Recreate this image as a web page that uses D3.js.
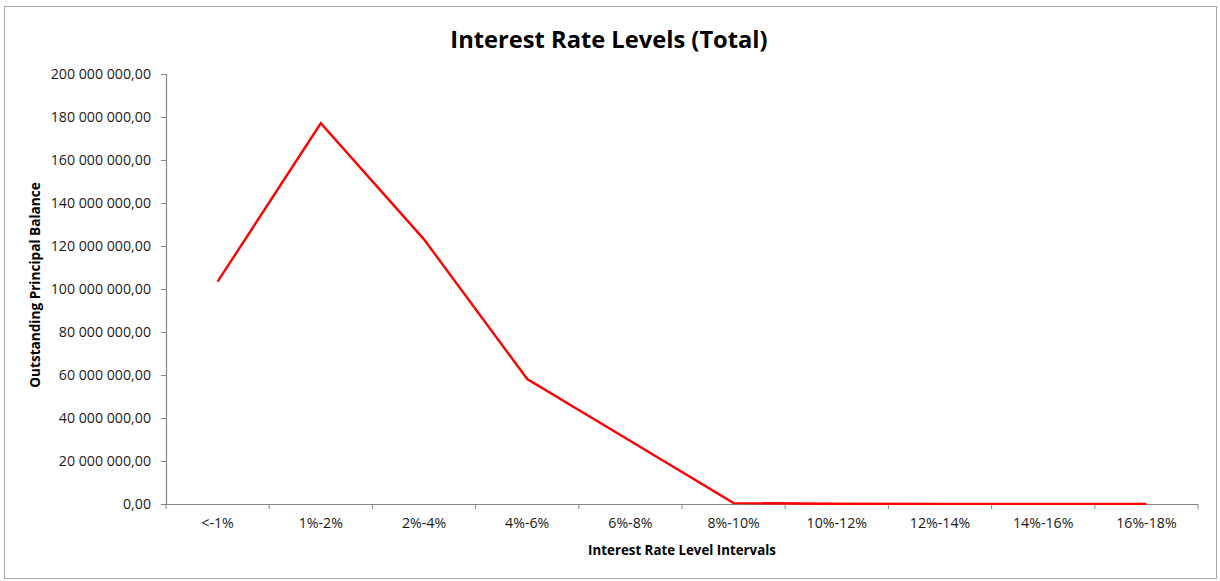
<!DOCTYPE html>
<html><head><meta charset="utf-8">
<script src="https://cdn.jsdelivr.net/npm/d3@7"></script>
<style>
html,body{margin:0;padding:0;background:#fff;}
svg{display:block;font-family:"Open Sans",sans-serif;}
</style></head>
<body>
<script>
const categories = ["<-1%","1%-2%","2%-4%","4%-6%","6%-8%","8%-10%","10%-12%","12%-14%","14%-16%","16%-18%"];
const balances = [103400000,177100000,123100000,58100000,29300000,400000,100000,60000,50000,50000];
const yTicks = [0,20000000,40000000,60000000,80000000,100000000,120000000,140000000,160000000,180000000,200000000];
const titleText = "Interest Rate Levels (Total)";
const xTitle = "Interest Rate Level Intervals";
const yTitle = "Outstanding Principal Balance";

const W = 1220, H = 581;
const svg = d3.select("body").append("svg").attr("width", W).attr("height", H);

svg.append("rect").attr("x",4.5).attr("y",6.5).attr("width",1212).attr("height",572)
  .attr("fill","#fff").attr("stroke","#a6a6a6").attr("stroke-width",1);

const pL = 166, pR = 1198, pT = 74, pB = 504;
const x = d3.scaleBand().domain(categories).range([pL, pR]);
const y = d3.scaleLinear().domain([0, 200000000]).range([pB, pT]);

const fmt = v => {
  const s = d3.format(",.2f")(v);
  return s.replace(/,/g," ").replace(/\.(\d\d)$/, ",$1");
};

const yAxis = svg.append("g").attr("transform",`translate(${pL},0)`)
  .call(d3.axisLeft(y).tickValues(yTicks).tickFormat(fmt).tickSize(5).tickPadding(10));
const xAxis = svg.append("g").attr("transform",`translate(0,${pB})`)
  .call(d3.axisBottom(x).tickSize(0).tickPadding(14));

[yAxis, xAxis].forEach(g => {
  g.select(".domain").attr("stroke","#868686").attr("stroke-width",1.2);
  g.selectAll(".tick line").attr("stroke","#868686");
  g.selectAll("text").attr("fill","#1a1a1a").style("font-size","14.2px").style("font-family","'Open Sans',sans-serif");
});
xAxis.select(".domain").attr("d", `M${pL},0.5H${pR}`);
const bounds = categories.map(c => x(c)).concat([pR]);
xAxis.selectAll(".bound").data(bounds).enter().append("line")
  .attr("x1", d => d).attr("x2", d => d).attr("y1", 0).attr("y2", 5)
  .attr("stroke","#868686");

const line = d3.line().x((d,i) => x(categories[i]) + x.bandwidth()/2).y(d => y(d));
svg.append("path").datum(balances).attr("d", line)
  .attr("fill","none").attr("stroke","#ff0000").attr("stroke-width",2.4).attr("stroke-linejoin","miter");

svg.append("text").attr("x", 609).attr("y", 48).attr("text-anchor","middle")
  .style("font-size","23.7px").style("font-weight","bold").attr("fill","#000").text(titleText);
svg.append("text").attr("x", 682).attr("y", 555).attr("text-anchor","middle")
  .style("font-size","13.3px").style("font-weight","bold").attr("fill","#000").text(xTitle);
svg.append("text").attr("transform","translate(40,285) rotate(-90)").attr("text-anchor","middle")
  .style("font-size","13.6px").style("font-weight","bold").attr("fill","#000").text(yTitle);
</script>
</body></html>
